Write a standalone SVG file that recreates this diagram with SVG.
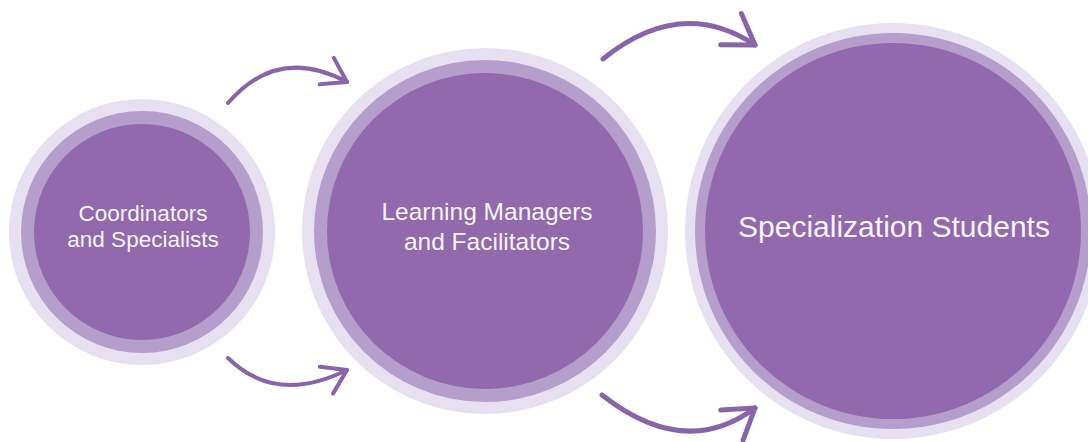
<svg xmlns="http://www.w3.org/2000/svg" width="1088" height="442" viewBox="0 0 1088 442">
  <style>
    .halo { fill: #e7e0f0; }
    .ring { fill: #b59dcc; }
    .core { fill: #9169ac; }
    .label { fill: #f8f4fb; font-family: "Liberation Sans", Arial, sans-serif; text-anchor: middle; }
    .flow { fill: none; stroke: #8864a9; stroke-linecap: round; }
  </style>
  <defs>
    <marker id="chevron" markerUnits="strokeWidth" viewBox="-7 -5 8 10" markerWidth="8" markerHeight="10" refX="0" refY="0" orient="auto" overflow="visible">
      <path d="M-5.75,-3.75 L0,0 L-5.75,3.75" fill="none" stroke="#8864a9" stroke-width="1" stroke-linecap="round" stroke-linejoin="round"/>
    </marker>
  </defs>
  <rect width="1088" height="442" fill="#ffffff"/>

  <g id="coordinators">
    <circle class="halo" cx="142" cy="232" r="133"/>
    <circle class="ring" cx="142" cy="232" r="121"/>
    <circle class="core" cx="142" cy="232" r="108"/>
    <text class="label" x="143" y="221" font-size="22.5">Coordinators</text>
    <text class="label" x="143" y="247" font-size="22.5">and Specialists</text>
  </g>

  <g id="managers">
    <circle class="halo" cx="485" cy="231" r="183"/>
    <circle class="ring" cx="485" cy="231" r="171"/>
    <circle class="core" cx="485" cy="231" r="158"/>
    <text class="label" x="487" y="220" font-size="24.5">Learning Managers</text>
    <text class="label" x="487" y="250" font-size="24.5">and Facilitators</text>
  </g>

  <g id="students">
    <circle class="halo" cx="893" cy="231" r="208"/>
    <circle class="ring" cx="893" cy="231" r="198"/>
    <circle class="core" cx="893" cy="231" r="188"/>
    <text class="label" x="894" y="237" font-size="30">Specialization Students</text>
  </g>

  <g id="connectors">
    <path class="flow" stroke-width="4" d="M228,103 Q278,45 347,82" marker-end="url(#chevron)"/>
    <path class="flow" stroke-width="4" d="M228,358 Q276,405 347,370" marker-end="url(#chevron)"/>
    <path class="flow" stroke-width="5" d="M603,59 Q681,-4 755,45" marker-end="url(#chevron)"/>
    <path class="flow" stroke-width="5" d="M602,395 Q685,460 755,408" marker-end="url(#chevron)"/>
  </g>
</svg>
